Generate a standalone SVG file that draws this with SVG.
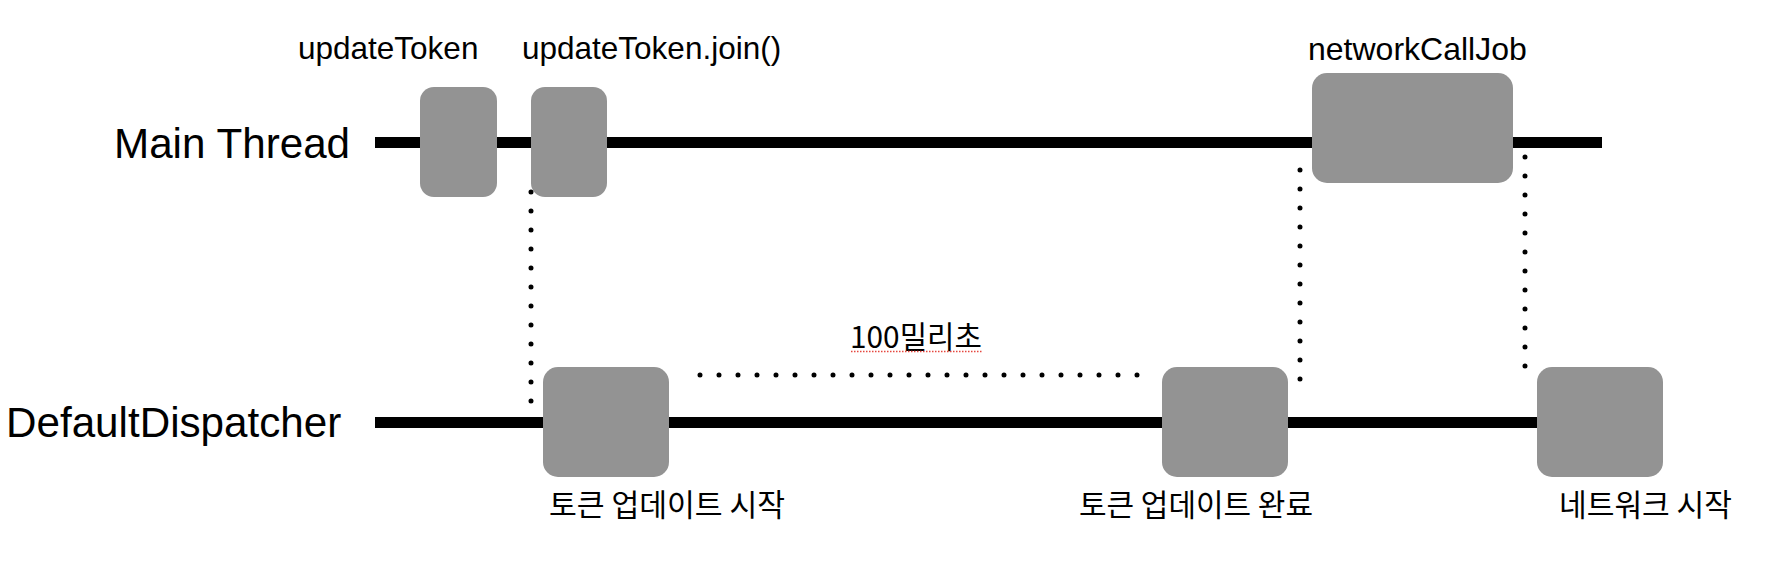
<svg xmlns="http://www.w3.org/2000/svg" width="1782" height="574" viewBox="0 0 1782 574">
  <style>
    .lane { stroke: #000; stroke-width: 11; fill: none; }
    .lbl { font-family: "Liberation Sans", Arial, sans-serif; fill: #000; }
    .big { font-size: 42.2px; }
    .small { font-size: 31.5px; }
    .ko { font-family: "Noto Sans CJK KR", "Noto Sans CJK SC", sans-serif; font-size: 30.5px; fill: #000; }
    .box { fill: #939393; }
    .dots { stroke: #000; stroke-width: 5; stroke-linecap: round; stroke-dasharray: 0 19; fill: none; }
  </style>
  <rect width="1782" height="574" fill="#fff"/>

  <g id="threads">
    <text class="lbl big" x="114" y="158">Main Thread</text>
    <line class="lane" x1="375" y1="142.5" x2="1602" y2="142.5"/>
    <text class="lbl big" x="6" y="437">DefaultDispatcher</text>
    <line class="lane" x1="375" y1="422.5" x2="1540" y2="422.5"/>
  </g>

  <g id="updateToken">
    <rect class="box" x="420" y="87" width="77" height="110" rx="14"/>
    <text class="lbl small" x="298" y="59">updateToken</text>
  </g>
  <g id="updateTokenJoin">
    <rect class="box" x="531" y="87" width="76" height="110" rx="14"/>
    <text class="lbl small" x="522" y="59">updateToken.join()</text>
  </g>
  <g id="networkCallJob">
    <rect class="box" x="1312" y="73" width="201" height="110" rx="15"/>
    <text class="lbl small" x="1308" y="60" style="font-size:32px">networkCallJob</text>
  </g>
  <g id="tokenUpdateStart">
    <rect class="box" x="543" y="367" width="126" height="110" rx="15"/>
    <text class="ko" x="549" y="516" textLength="236" lengthAdjust="spacingAndGlyphs">토큰 업데이트 시작</text>
  </g>
  <g id="tokenUpdateDone">
    <rect class="box" x="1162" y="367" width="126" height="110" rx="15"/>
    <text class="ko" x="1079" y="516" textLength="234" lengthAdjust="spacingAndGlyphs">토큰 업데이트 완료</text>
  </g>
  <g id="networkStart">
    <rect class="box" x="1537" y="367" width="126" height="110" rx="15"/>
    <text class="ko" x="1559" y="516" textLength="173" lengthAdjust="spacingAndGlyphs">네트워크 시작</text>
  </g>

  <g id="connectors">
    <line class="dots" x1="531" y1="192" x2="531" y2="402"/>
    <line class="dots" x1="700" y1="375" x2="1138" y2="375"/>
    <line class="dots" x1="1300" y1="170" x2="1300" y2="380"/>
    <line class="dots" x1="1525" y1="157" x2="1525" y2="367"/>
    <g id="label-100ms">
      <text class="ko" x="850" y="348" textLength="132" lengthAdjust="spacingAndGlyphs">100밀리초</text>
      <line x1="851" y1="351.5" x2="982" y2="351.5" stroke="#e5473f" stroke-width="1.5" stroke-dasharray="1.5 1.5"/>
    </g>
  </g>
</svg>
